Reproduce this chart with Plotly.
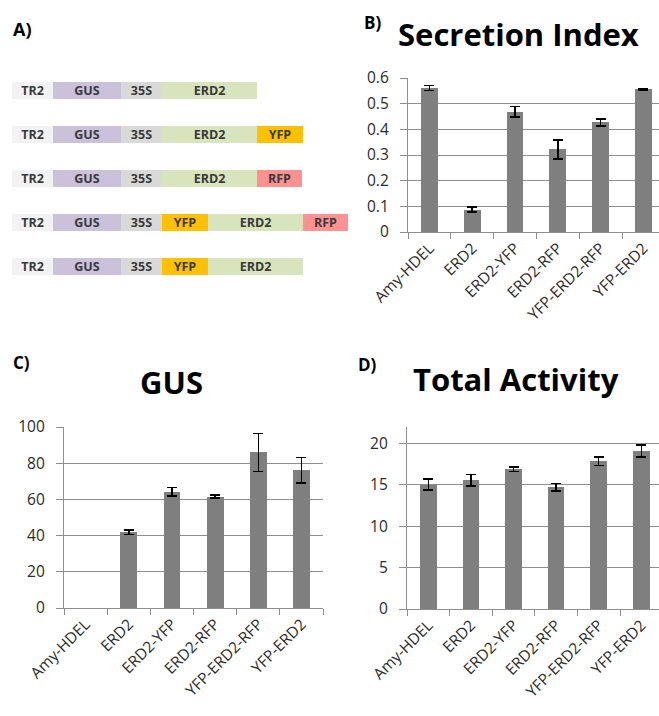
import plotly.graph_objects as go

W, H = 659, 716

# ---------------- data ----------------
categories = ["Amy-HDEL", "ERD2", "ERD2-YFP", "ERD2-RFP", "YFP-ERD2-RFP", "YFP-ERD2"]

secretion_vals = [0.561, 0.087, 0.469, 0.322, 0.427, 0.556]
secretion_err = [0.009, 0.01, 0.02, 0.037, 0.014, 0.003]

gus_vals = [None, 41.8, 64.3, 61.6, 86.0, 76.2]
gus_err = [0, 1.3, 2.3, 0.9, 10.5, 7.0]

total_vals = [15.05, 15.55, 16.9, 14.7, 17.85, 19.1]
total_err = [0.65, 0.7, 0.25, 0.45, 0.5, 0.7]

# construct diagrams (panel A): parts per construct, in order
constructs = [
    ["TR2", "GUS", "35S", "ERD2"],
    ["TR2", "GUS", "35S", "ERD2", "YFP"],
    ["TR2", "GUS", "35S", "ERD2", "RFP"],
    ["TR2", "GUS", "35S", "YFP", "ERD2", "RFP"],
    ["TR2", "GUS", "35S", "YFP", "ERD2"],
]
part_length = {"TR2": 41, "GUS": 68, "35S": 41, "ERD2": 95, "YFP": 46, "RFP": 45}
part_color = {"TR2": "#f2f2f2", "GUS": "#ccc1da", "35S": "#d9d9d9",
              "ERD2": "#d8e4bc", "YFP": "#ffc000", "RFP": "#ff9191"}

# ---------------- helpers ----------------
def xd(a, b):
    return [a / W, min(b / W, 1.0)]

def yd(top, bottom):
    return [1 - bottom / H, 1 - top / H]

FONT = "Open Sans, Lato, sans-serif"
GRID = "#8e8e8e"
TXT = "#2b2b2b"
BAR = "#7f7f7f"

fig = go.Figure()

# ---------------- panel A ----------------
nmax = max(len(c) for c in constructs)
for p in range(nmax):
    xs, cols, txt, ys = [], [], [], []
    for r, c in enumerate(constructs):
        ys.append(r)
        if p < len(c):
            xs.append(part_length[c[p]])
            cols.append(part_color[c[p]])
            txt.append(c[p])
        else:
            xs.append(None)
            cols.append("rgba(0,0,0,0)")
            txt.append("")
    fig.add_trace(go.Bar(
        x=xs, y=ys, orientation="h", width=0.386,
        marker=dict(color=cols, line=dict(width=0)),
        text=txt, textposition="inside", insidetextanchor="middle",
        constraintext="none", textangle=0,
        insidetextfont=dict(family=FONT, size=12.5, color="#3a3a3a", weight="bold"),
        xaxis="x", yaxis="y", showlegend=False, hoverinfo="skip",
    ))

# ---------------- bar panels ----------------
def add_bars(vals, errs, xa, ya):
    fig.add_trace(go.Bar(
        x=categories, y=vals, width=0.39,
        marker=dict(color=BAR, line=dict(width=0)),
        error_y=dict(type="data", array=errs, visible=True,
                     color="black", thickness=1.5, width=5),
        xaxis=xa, yaxis=ya, showlegend=False,
    ))

add_bars(secretion_vals, secretion_err, "x2", "y2")
add_bars(gus_vals, gus_err, "x3", "y3")
add_bars(total_vals, total_err, "x4", "y4")

tickfont = dict(family=FONT, size=15.5, color=TXT)

def cat_axis(domain, rng, anchor):
    return dict(domain=domain, range=rng, anchor=anchor, type="category",
                automargin=False,
                showgrid=False, showline=True, linecolor=GRID, linewidth=1.3,
                ticks="outside", tickson="boundaries", ticklen=6,
                tickcolor=GRID, tickwidth=1.3, tickangle=-45,
                tickfont=tickfont, zeroline=False, fixedrange=True)

def val_axis(domain, rng, dtick, anchor):
    return dict(domain=domain, range=rng, anchor=anchor, dtick=dtick, tick0=0,
                automargin=False,
                showgrid=True, gridcolor=GRID, gridwidth=1.3,
                showline=True, linecolor=GRID, linewidth=1.3,
                ticks="outside", ticklen=7, tickcolor=GRID, tickwidth=1.3,
                tickfont=tickfont, zeroline=False, ticklabelstandoff=8,
                fixedrange=True)

layout = dict(
    width=W, height=H, margin=dict(l=0, r=0, t=0, b=0, autoexpand=False),
    paper_bgcolor="white", plot_bgcolor="white",
    barmode="stack", showlegend=False,
    font=dict(family=FONT, color=TXT),
    xaxis=dict(domain=xd(0, 350), range=[-12, 338], visible=False,
               fixedrange=True, automargin=False),
    yaxis=dict(domain=yd(68.5, 288.5), range=[4.5, -0.5], visible=False,
               fixedrange=True, automargin=False),
    xaxis2=cat_axis(xd(408, 659), [-0.5, -0.5 + (659 - 408) / 42.8], "y2"),
    yaxis2=val_axis(yd(78, 232), [0, 0.6], 0.1, "x2"),
    xaxis3=cat_axis(xd(64, 323), [-0.5, 5.5], "y3"),
    yaxis3=val_axis(yd(427, 608), [0, 100], 20, "x3"),
    xaxis4=cat_axis(xd(407, 659), [-0.5, -0.5 + (659 - 407) / 42.6], "y4"),
    yaxis4=val_axis(yd(427, 609), [0, 22], 5, "x4"),
)
fig.update_layout(**layout)

def ann(text, cx, cy, size):
    fig.add_annotation(text=text, x=cx / W, y=1 - cy / H, xref="paper", yref="paper",
                       xanchor="center", yanchor="middle", showarrow=False,
                       font=dict(family=FONT, size=size, color="black", weight="bold"))

ann("A)", 22, 29, 18)
ann("B)", 372, 23, 17)
ann("C)", 21, 363, 17)
ann("D)", 367, 364, 17)
ann("Secretion Index", 518, 34, 31)
ann("GUS", 171, 382, 31)
ann("Total Activity", 516, 379, 31)

fig.write_html("out.html")
